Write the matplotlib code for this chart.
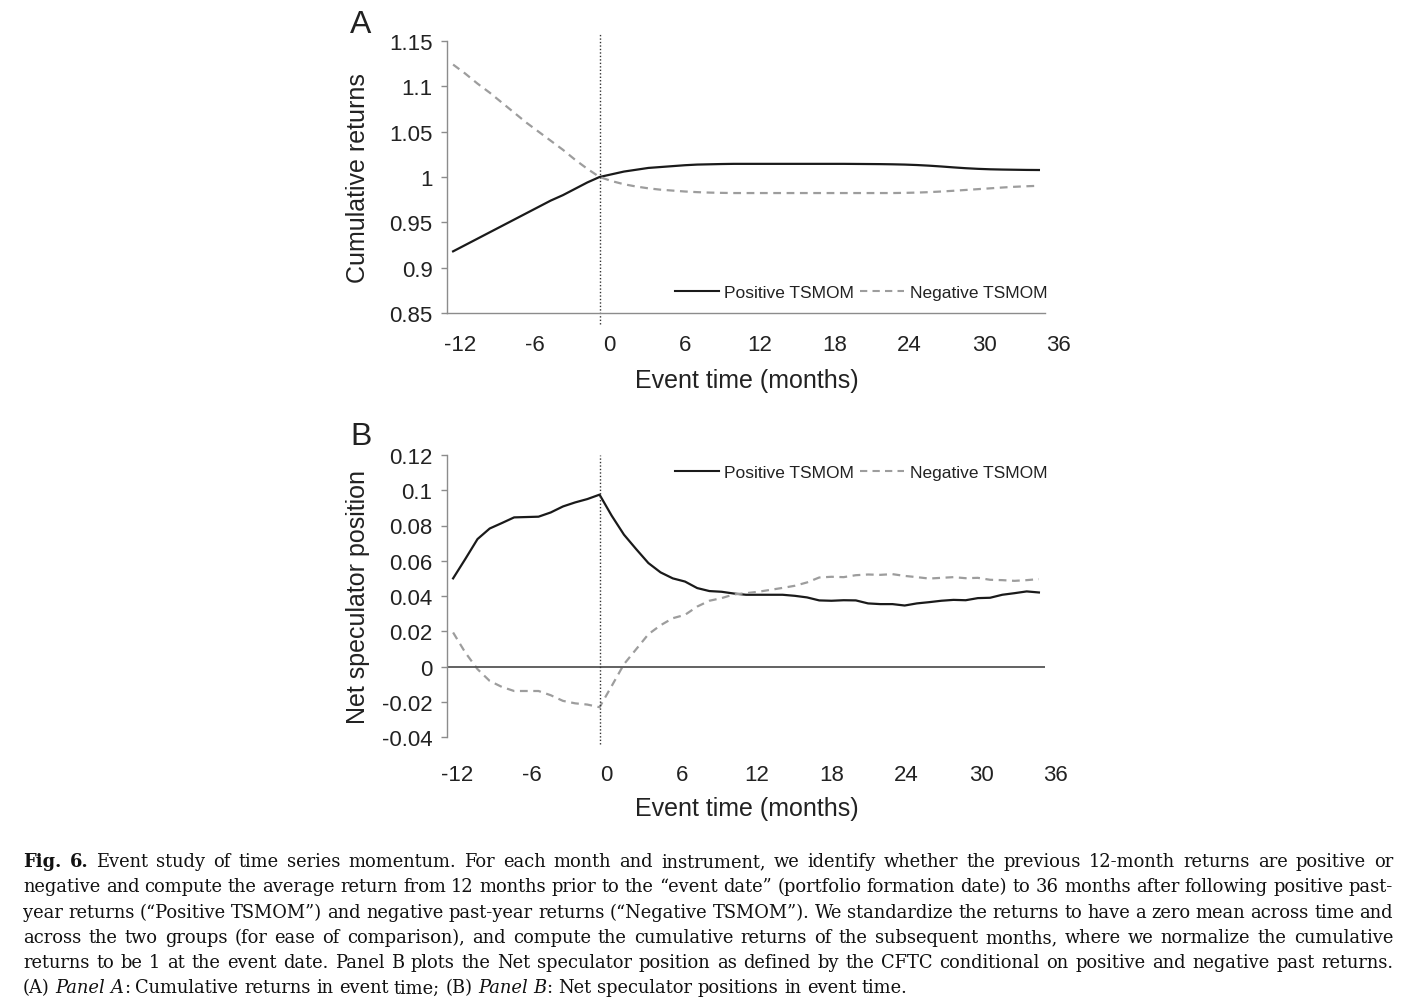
import re

import matplotlib
matplotlib.use("Agg")
import matplotlib.pyplot as plt
from matplotlib.lines import Line2D
from matplotlib.transforms import IdentityTransform

plt.rcParams["font.family"] = ["Liberation Sans", "DejaVu Sans"]

# event time in months, -12 .. 36
months = list(range(-12, 37))

# Panel A: cumulative returns
ret_pos = [0.918, 0.925, 0.932, 0.939, 0.946, 0.953, 0.960, 0.967, 0.974, 0.980,
           0.987, 0.994, 1.000,
           1.003, 1.006, 1.008, 1.010, 1.011, 1.012, 1.013, 1.0137, 1.014, 1.0143,
           1.0145, 1.0145, 1.0145, 1.0145, 1.0145, 1.0145, 1.0145, 1.0145, 1.0145,
           1.0145, 1.0144, 1.0143, 1.0142, 1.014, 1.0137, 1.0132, 1.0125, 1.0116,
           1.0106, 1.0097, 1.009, 1.0085, 1.0082, 1.008, 1.0078, 1.0077]
ret_neg = [1.124, 1.114, 1.103, 1.093, 1.082, 1.071, 1.060, 1.050, 1.040, 1.030,
           1.019, 1.009, 1.000,
           0.9955, 0.992, 0.9895, 0.9875, 0.986, 0.985, 0.984, 0.9833, 0.9828, 0.9825,
           0.9823, 0.9823, 0.9823, 0.9823, 0.9823, 0.9823, 0.9823, 0.9823, 0.9823,
           0.9823, 0.9823, 0.9823, 0.9823, 0.9823, 0.9825, 0.9828, 0.9833, 0.984,
           0.9848, 0.9857, 0.9866, 0.9875, 0.9884, 0.9892, 0.9898, 0.9903]

# Panel B: net speculator position
spec_pos = [0.050, 0.061, 0.0723, 0.0783, 0.0814, 0.0846, 0.0848, 0.085, 0.0874,
            0.0908, 0.0931, 0.095, 0.0975,
            0.0855, 0.0748, 0.0666, 0.0587, 0.0534, 0.050, 0.0482, 0.0445, 0.0428,
            0.0424, 0.0414, 0.0407, 0.0407, 0.0407, 0.0407, 0.0401, 0.0392, 0.0375,
            0.0373, 0.0376, 0.0375, 0.0358, 0.0354, 0.0354, 0.0346, 0.0358, 0.0365,
            0.0373, 0.0378, 0.0376, 0.0388, 0.039, 0.0407, 0.0416, 0.0426, 0.042]
spec_neg = [0.0193, 0.0079, -0.0015, -0.0082, -0.0116, -0.0139, -0.0139, -0.0139,
            -0.0163, -0.0195, -0.0209, -0.0216, -0.0231,
            -0.011, 0.0013, 0.0098, 0.0183, 0.0234, 0.0274, 0.0293, 0.034, 0.0373,
            0.0388, 0.0409, 0.0416, 0.0424, 0.0435, 0.0446, 0.0458, 0.0477, 0.0505,
            0.0509, 0.0507, 0.0518, 0.0522, 0.052, 0.0524, 0.0514, 0.0507, 0.0499,
            0.0503, 0.0507, 0.0501, 0.0503, 0.0492, 0.049, 0.0486, 0.049, 0.0496]

xtick_vals = [-12, -6, 0, 6, 12, 18, 24, 30, 36]
yticks_a = [0.85, 0.9, 0.95, 1.0, 1.05, 1.1, 1.15]
ytick_labels_a = ["0.85", "0.9", "0.95", "1", "1.05", "1.1", "1.15"]
yticks_b = [-0.04, -0.02, 0.0, 0.02, 0.04, 0.06, 0.08, 0.1, 0.12]
ytick_labels_b = ["-0.04", "-0.02", "0", "0.02", "0.04", "0.06", "0.08", "0.1", "0.12"]

series_labels = ["Positive TSMOM", "Negative TSMOM"]

caption_lines = [
    "**Fig.** **6.** Event study of time series momentum. For each month and instrument, we identify whether the previous 12-month returns are positive or",
    "negative and compute the average return from 12 months prior to the \u201cevent date\u201d (portfolio formation date) to 36 months after following positive past-",
    "year returns (\u201cPositive TSMOM\u201d) and negative past-year returns (\u201cNegative TSMOM\u201d). We standardize the returns to have a zero mean across time and",
    "across the two groups (for ease of comparison), and compute the cumulative returns of the subsequent months, where we normalize the cumulative",
    "returns to be 1 at the event date. Panel B plots the Net speculator position as defined by the CFTC conditional on positive and negative past returns.",
    "(A) *Panel* *A*: Cumulative returns in event time; (B) *Panel* *B*: Net speculator positions in event time.",
]

W, H = 1401, 1004
POS_COLOR = "#1a1a1a"
NEG_COLOR = "#9d9d9d"
AXIS_COLOR = "#8c8c8c"
TEXT_COLOR = "#222222"
PX_PER_MONTH = 598 / 49


def fx(px):
    return px / W


def fy(py):
    return 1 - py / H


def style_panel(ax, yticks, ylabels, ylim, label_offset, label_drop):
    for side in ("top", "right"):
        ax.spines[side].set_visible(False)
    for side in ("left", "bottom"):
        ax.spines[side].set_color(AXIS_COLOR)
        ax.spines[side].set_linewidth(1.0)
    ax.set_xlim(-12.5, 36.5)
    ax.set_ylim(*ylim)
    ax.set_yticks(yticks, ylabels)
    ax.set_xticks([])
    ax.tick_params(axis="y", length=4, width=1, color=AXIS_COLOR, pad=6.5,
                   labelsize=16, labelcolor=TEXT_COLOR)
    # Excel-style category labels sit a little right of the data points,
    # the last one even past the end of the axis, so draw them as text
    for m in xtick_vals:
        xpos = m + (label_offset + 0.27 * (m + 12)) / PX_PER_MONTH
        ax.annotate(str(m), xy=(xpos, 0), xycoords=("data", "axes fraction"),
                    xytext=(0, -label_drop * 0.72), textcoords="offset points",
                    ha="center", va="center", fontsize=16, color=TEXT_COLOR,
                    annotation_clip=False)


def add_legend(ax, y_px):
    handles = [Line2D([], [], color=POS_COLOR, lw=1.5),
               Line2D([], [], color=NEG_COLOR, lw=1.5, dashes=(3.5, 2.5))]
    ax.legend(handles, series_labels, ncol=2, frameon=False, fontsize=12.5,
              loc="center right", bbox_to_anchor=(fx(1047), fy(y_px)),
              bbox_transform=ax.figure.transFigure, borderpad=0, borderaxespad=0,
              handlelength=2.55, handletextpad=0.3, columnspacing=0.35,
              labelcolor=TEXT_COLOR)


def parse_word(word):
    segs = []
    for m in re.finditer(r"\*\*([^*]+)\*\*|\*([^*]+)\*|([^*]+)", word):
        if m.group(1):
            segs.append((m.group(1), "bold", "normal"))
        elif m.group(2):
            segs.append((m.group(2), "normal", "italic"))
        else:
            segs.append((m.group(3), "normal", "normal"))
    return segs


def draw_caption(fig, lines, x0, x1, baselines, family):
    renderer = fig.canvas.get_renderer()

    def make(s, weight, style, size):
        return fig.text(0, 0, s, transform=IdentityTransform(), fontsize=size,
                        family=family, weight=weight, style=style,
                        color="#111111", va="baseline", ha="left")

    def width(t):
        return t.get_window_extent(renderer).width

    # pick the size so the last (unjustified) line spans as in the source
    probe = make(lines[-1].replace("*", ""), "normal", "normal", 10)
    size = 10 * 893 / width(probe)
    probe.remove()
    a = make("x x", "normal", "normal", size)
    b = make("xx", "normal", "normal", size)
    space = width(a) - width(b)
    a.remove()
    b.remove()

    for i, line in enumerate(lines):
        words = []
        for w in line.split(" "):
            texts = [make(s, wt, st, size) for s, wt, st in parse_word(w)]
            words.append((texts, sum(width(t) for t in texts)))
        total = sum(wd for _, wd in words)
        if i < len(lines) - 1:
            gap = (x1 - x0 - total) / (len(words) - 1)
        else:
            gap = space
        x = x0
        y = H - baselines[i]
        for texts, wd in words:
            xx = x
            for t in texts:
                t.set_position((xx, y))
                xx += width(t)
            x += wd + gap


fig = plt.figure(figsize=(W / 100, H / 100), dpi=100)
fig.patch.set_facecolor("white")

# ---- Panel A ----
ax_a = fig.add_axes([fx(447), fy(314), fx(1045) - fx(447), fy(42) - fy(314)])
ax_a.plot(months, ret_pos, color=POS_COLOR, lw=1.6)
ax_a.plot(months, ret_neg, color=NEG_COLOR, lw=1.6, dashes=(3.5, 2.5))
ax_a.axvline(0, ymin=-0.04, ymax=1.026, color="#333333", lw=1.0, ls=(0, (1, 1.5)),
             clip_on=False)
style_panel(ax_a, yticks_a, ytick_labels_a, (0.85, 1.15), 7, 32)
add_legend(ax_a, 293)

# ---- Panel B ----
ax_b = fig.add_axes([fx(447), fy(738), fx(1045) - fx(447), fy(456) - fy(738)])
ax_b.plot(months, spec_pos, color=POS_COLOR, lw=1.6)
ax_b.plot(months, spec_neg, color=NEG_COLOR, lw=1.6, dashes=(3.5, 2.5))
ax_b.axhline(0, color="#555555", lw=1.3)
ax_b.axvline(0, ymin=-0.025, ymax=1.0, color="#333333", lw=1.0, ls=(0, (1, 1.5)),
             clip_on=False)
style_panel(ax_b, yticks_b, ytick_labels_b, (-0.04, 0.12), 4, 37.5)
ax_b.spines["bottom"].set_visible(False)
add_legend(ax_b, 473)

# axis titles and panel letters
for ylab, yc in (("Cumulative returns", 178), ("Net speculator position", 597)):
    fig.text(fx(358), fy(yc), ylab, rotation=90, ha="center", va="center",
             fontsize=18, color=TEXT_COLOR)
for base in (388, 816):
    fig.text(fx(747), fy(base), "Event time (months)", ha="center", va="baseline",
             fontsize=18, color=TEXT_COLOR)
fig.text(fx(361), fy(33), "A", ha="center", va="baseline", fontsize=23,
         color=TEXT_COLOR)
fig.text(fx(361), fy(445), "B", ha="center", va="baseline", fontsize=23,
         color=TEXT_COLOR)

fig.canvas.draw()
draw_caption(fig, caption_lines, 23, 1393,
             [867, 892.3, 917.6, 942.9, 968.2, 993.5], ["DejaVu Serif"])

fig.savefig("out.png", dpi=100)
